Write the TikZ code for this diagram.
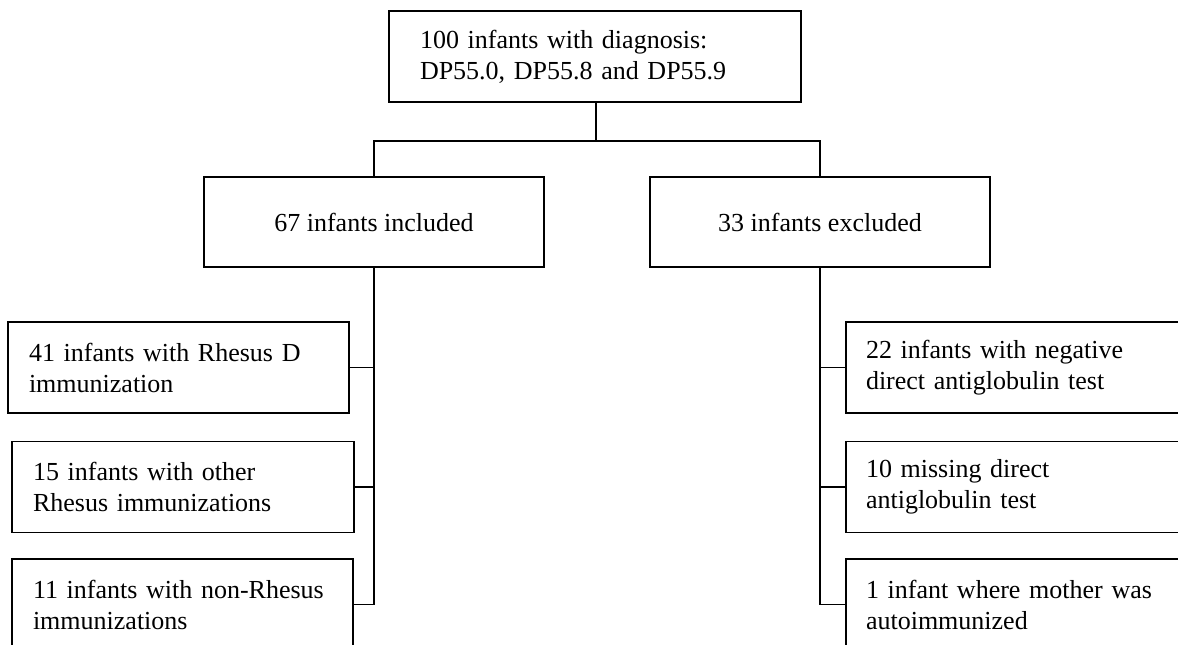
\documentclass[tikz,border=0pt]{standalone}
\usepackage{fontspec}
\setmainfont{Liberation Serif}
\usepackage{tikz}

\begin{document}
\begin{tikzpicture}[x=1pt,y=-1pt,line width=1.8pt,
	box/.style={draw,inner ysep=0pt,minimum height=91pt,align=left,
		font=\fontsize{26}{31}\selectfont},
	midbox/.style={draw,minimum width=340pt,minimum height=90pt,align=center,
		font=\fontsize{26}{31}\selectfont}]
	\useasboundingbox[fill=white] (0,0) rectangle (1178,645);
	\clip (0,0) rectangle (1178,645);

	\node[box,inner xsep=31pt,text width=350pt] (diag) at (595,56.5)
		{100 infants with diagnosis:\\DP55.0, DP55.8 and DP55.9};
	\node[midbox] (incl) at (374,222) {67 infants included};
	\node[midbox] (excl) at (820,222) {33 infants excluded};

	\node[box,inner xsep=21pt,text width=299pt] (rhd)   at (178.5,367.5) {41 infants with Rhesus D\\immunization};
	\node[box,inner xsep=21pt,text width=300pt] (oth)   at (183,487)     {15 infants with other\\Rhesus immunizations};
	\node[box,inner xsep=21pt,text width=299pt] (nonrh) at (182.5,604.5) {11 infants with non-Rhesus\\immunizations};

	\node[box,inner xsep=20pt,text width=305pt] (neg)  at (1018.5,367.5) {22 infants with negative\\direct antiglobulin test};
	\node[box,inner xsep=20pt,text width=305pt] (miss) at (1018.5,487)   {10 missing direct\\antiglobulin test};
	\node[box,inner xsep=20pt,text width=305pt] (auto) at (1018.5,604.5) {1 infant where mother was\\autoimmunized};

	\coordinate (split) at (596,141);
	\draw (diag.south -| split) -- (split);
	\draw (incl.north) |- (split) -| (excl.north);

	\draw (incl.south) |- (rhd.east);
	\draw (incl.south) |- (oth.east);
	\draw (incl.south) |- (nonrh.east);

	\draw (excl.south) |- (neg.west);
	\draw (excl.south) |- (miss.west);
	\draw (excl.south) |- (auto.west);
\end{tikzpicture}
\end{document}
